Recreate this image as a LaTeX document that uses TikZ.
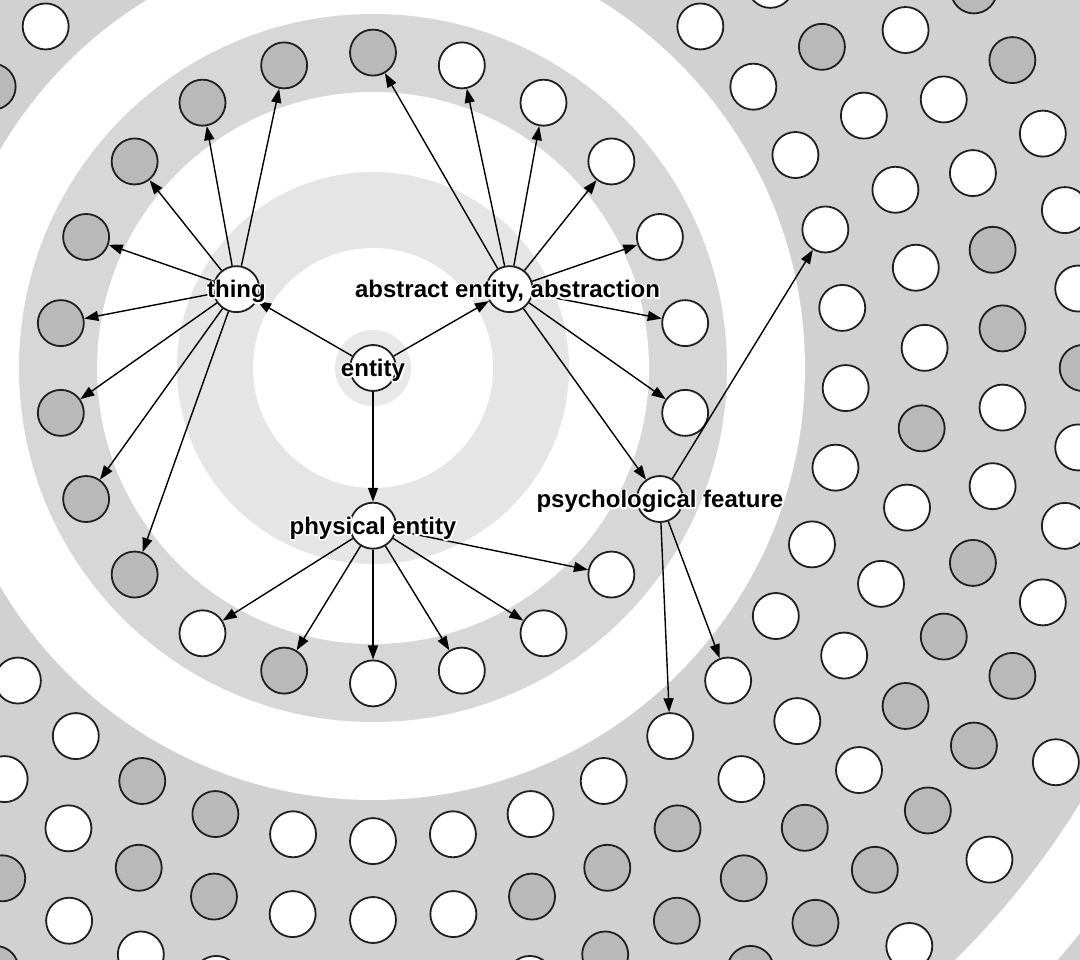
\documentclass[tikz,border=0pt]{standalone}
\usepackage{fontspec}
\setmainfont{Liberation Sans}
\usetikzlibrary{arrows.meta}
\definecolor{bgA}{gray}{0.82}
\definecolor{bgB}{gray}{0.845}
\definecolor{bgC}{gray}{0.90}
\definecolor{bgH}{gray}{0.91}
\definecolor{nw}{gray}{1}
\definecolor{ng}{gray}{0.725}
\definecolor{strokecol}{gray}{0.12}
\newcommand{\halotext}[1]{\leavevmode\rlap{\special{pdf:literal direct 1 Tr 3.2 w 1 J 1 j 1 1 1 RG}#1\special{pdf:literal direct 0 Tr}}#1}
\begin{document}
\begin{tikzpicture}[x=1pt,y=-1pt,
  vtx/.style={circle,draw=strokecol,line width=1.8pt,minimum size=46pt,inner sep=0pt},
  edge/.style={draw=black,line width=1.4pt,-{Triangle[length=14pt,width=10pt]}},
  lbl/.style={font=\bfseries\fontsize{24}{26}\selectfont,inner sep=0pt,yshift=-2.5pt}
]
\useasboundingbox (0,0) rectangle (1080,960);
\clip (0,0) rectangle (1080,960);
\fill[bgA] (0,0) rectangle (1080,960);
\begin{scope}[shift={(373,368)}]
  % background bands
  \fill[white] (0,0) circle[radius=905pt];
  \fill[bgA] (0,0) circle[radius=830pt];
  \fill[white] (0,0) circle[radius=432pt];
  \fill[bgB] (0,0) circle[radius=354pt];
  \fill[white] (0,0) circle[radius=276pt];
  \fill[bgC] (0,0) circle[radius=196pt];
  \fill[white] (0,0) circle[radius=120pt];
  \fill[bgH] (0,0) circle[radius=38pt];

  % level 0 and 1
  \node[vtx,fill=nw] (entity) at (0,0) {};
  \node[vtx,fill=nw] (thing) at (210:157.7) {};
  \node[vtx,fill=nw] (abstract) at (-30:157.7) {};
  \node[vtx,fill=nw] (physical) at (90:157.7) {};

  % level 2 ring
  \foreach \k/\fc in {0/ng,1/nw,2/nw,3/nw,4/nw,5/nw,6/nw,7/nw,8/nw,9/nw,10/nw,
                      11/nw,12/ng,13/nw,14/ng,15/ng,16/ng,17/ng,18/ng,19/ng,20/ng,21/ng}
    \node[vtx,fill=\fc] (B\k) at ({-90+\k*(360/22)}:315.4) {};

  % level 3 rows
  \foreach \n/\fc in {22/nw,23/nw,24/nw,25/nw,26/nw,27/nw,28/nw,29/nw,30/nw,31/nw,
                      32/nw,33/nw,34/nw,35/nw,36/nw,0/nw,1/nw,2/ng,3/ng,4/nw,5/nw,
                      13/ng,14/nw,15/nw}
    \node[vtx,fill=\fc] (A\n) at ({90+\n*(360/37)}:473.1) {};
  \foreach \n/\fc in {27/nw,28/ng,29/nw,30/nw,31/nw,32/nw,33/ng,34/nw,35/nw,36/nw,
                      37/nw,38/nw,39/ng,40/ng,41/ng,42/nw,0/nw,1/nw,2/ng,3/ng,4/nw,5/nw}
    \node[vtx,fill=\fc] (C\n) at ({90+\n*(360/43)}:552) {};
  \foreach \n/\fc in {33/nw,34/nw,35/nw,36/ng,37/ng,38/nw,39/nw,40/ng,41/ng,42/ng,
                      43/nw,44/ng,45/ng,46/ng,47/ng,48/nw,2/nw,3/nw,4/nw,5/ng}
    \node[vtx,fill=\fc] (D\n) at ({90+\n*7.2}:630.8) {};
  \foreach \n/\fc in {37/ng,38/ng,39/nw,40/nw,41/nw,42/ng,43/nw,44/nw,45/nw,
                      46/ng,47/ng,48/ng,49/ng,50/ng,51/ng,5/ng}
    \node[vtx,fill=\fc] (E\n) at ({90+\n*(360/56)}:709.7) {};
  \foreach \n/\fc in {35/nw,36/nw,37/nw}
    \node[vtx,fill=\fc] (F\n) at ({90+\n*(360/42)}:788.5) {};

  % edges
  \draw[edge] (entity) -- (thing);
  \draw[edge] (entity) -- (abstract);
  \draw[edge] (entity) -- (physical);
  \foreach \k in {14,...,21} \draw[edge] (thing) -- (B\k);
  \foreach \k in {0,...,7} \draw[edge] (abstract) -- (B\k);
  \foreach \k in {8,...,13} \draw[edge] (physical) -- (B\k);
  \foreach \t in {A26,A32,A33} \draw[edge] (B7) -- (\t);

  % labels
  \node[lbl] (entity-l) at (entity) {\halotext{entity}};
  \node[lbl] (thing-l) at (thing) {\halotext{thing}};
  \node[lbl] (abstract-l) at ([xshift=-2]abstract.center) {\halotext{abstract entity, abstraction}};
  \node[lbl] (physical-l) at (physical) {\halotext{physical entity}};
  \node[lbl] (psych-l) at (B7) {\halotext{psychological feature}};
\end{scope}
\end{tikzpicture}
\end{document}
